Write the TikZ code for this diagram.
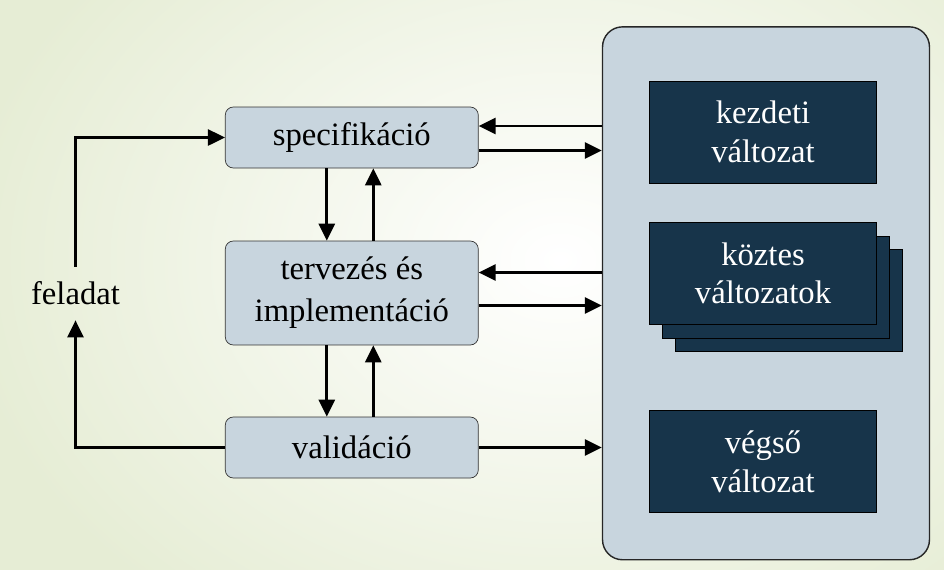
\documentclass[tikz,border=0pt]{standalone}
\usepackage{fontspec}
\setmainfont{Liberation Serif}
\usetikzlibrary{arrows.meta}
\definecolor{boxfill}{HTML}{C8D5DE}
\definecolor{darkfill}{HTML}{17344A}
\definecolor{bggreen}{HTML}{E6EDD5}
\begin{document}
\begin{tikzpicture}[x=0.02cm, y=-0.02cm,
  every node/.style={font=\fontsize{18.6}{24}\selectfont},
  box/.style={rectangle, draw=black!80, fill=boxfill, rounded corners=0.16cm, minimum width=5.06cm, inner sep=0pt, align=center},
  ver/.style={rectangle, draw=black, fill=darkfill, text=white, minimum width=4.54cm, minimum height=2.04cm, inner sep=0pt, align=center, font=\fontsize{18.6}{22}\selectfont},
  arr/.style={-{Triangle[length=0.34cm,width=0.32cm]}, line width=1.5pt}]
\useasboundingbox (0,0) rectangle (944,569);
\begin{scope}
\clip (0,0) rectangle (944,569);
\shade[inner color=white, outer color=bggreen] (-40,-190) rectangle (1160,710);
\end{scope}
\node[rectangle, draw=black!85, fill=boxfill, rounded corners=0.4cm, minimum width=6.54cm, minimum height=10.66cm, line width=0.8pt] (P) at (766,293.3) {};
\node[box, minimum height=1.22cm] (S) at (351.8,137.5) {specifikáció};
\node[box, minimum height=2.08cm] (T) at (351.8,293) {tervezés és\\implementáció};
\node[box, minimum height=1.22cm] (V) at (351.8,447.5) {validáció};
\node[minimum height=1.06cm, inner sep=0pt] (F) at (75.5,293.5) {feladat};
\node[ver] (K) at (763,132) {kezdeti\\változat};
\node[ver] (M2) at (789,300.5) {};
\node[ver] (M1) at (776,287) {};
\node[ver] (M) at (763,273.3) {köztes\\változatok};
\node[ver] (E) at (763,461.7) {végső\\változat};
\draw[arr] (F.north) |- (S.west);
\draw[arr] (V.west) -| (F.south);
\draw[arr] ([xshift=-0.5cm]S.south) -- ([xshift=-0.5cm]T.north);
\draw[arr] ([xshift=0.43cm]T.north) -- ([xshift=0.43cm]S.south);
\draw[arr] ([xshift=-0.5cm]T.south) -- ([xshift=-0.5cm]V.north);
\draw[arr] ([xshift=0.43cm]V.north) -- ([xshift=0.43cm]T.south);
\coordinate (S1) at ([yshift=0.23cm]S.east);
\coordinate (S2) at ([yshift=-0.26cm]S.east);
\coordinate (T1) at ([yshift=0.41cm]T.east);
\coordinate (T2) at ([yshift=-0.25cm]T.east);
\draw[arr] (P.west |- S1) -- (S1);
\draw[arr] (S2) -- (P.west |- S2);
\draw[arr] (P.west |- T1) -- (T1);
\draw[arr] (T2) -- (P.west |- T2);
\draw[arr] (V.east) -- (P.west |- V.east);
\end{tikzpicture}
\end{document}
